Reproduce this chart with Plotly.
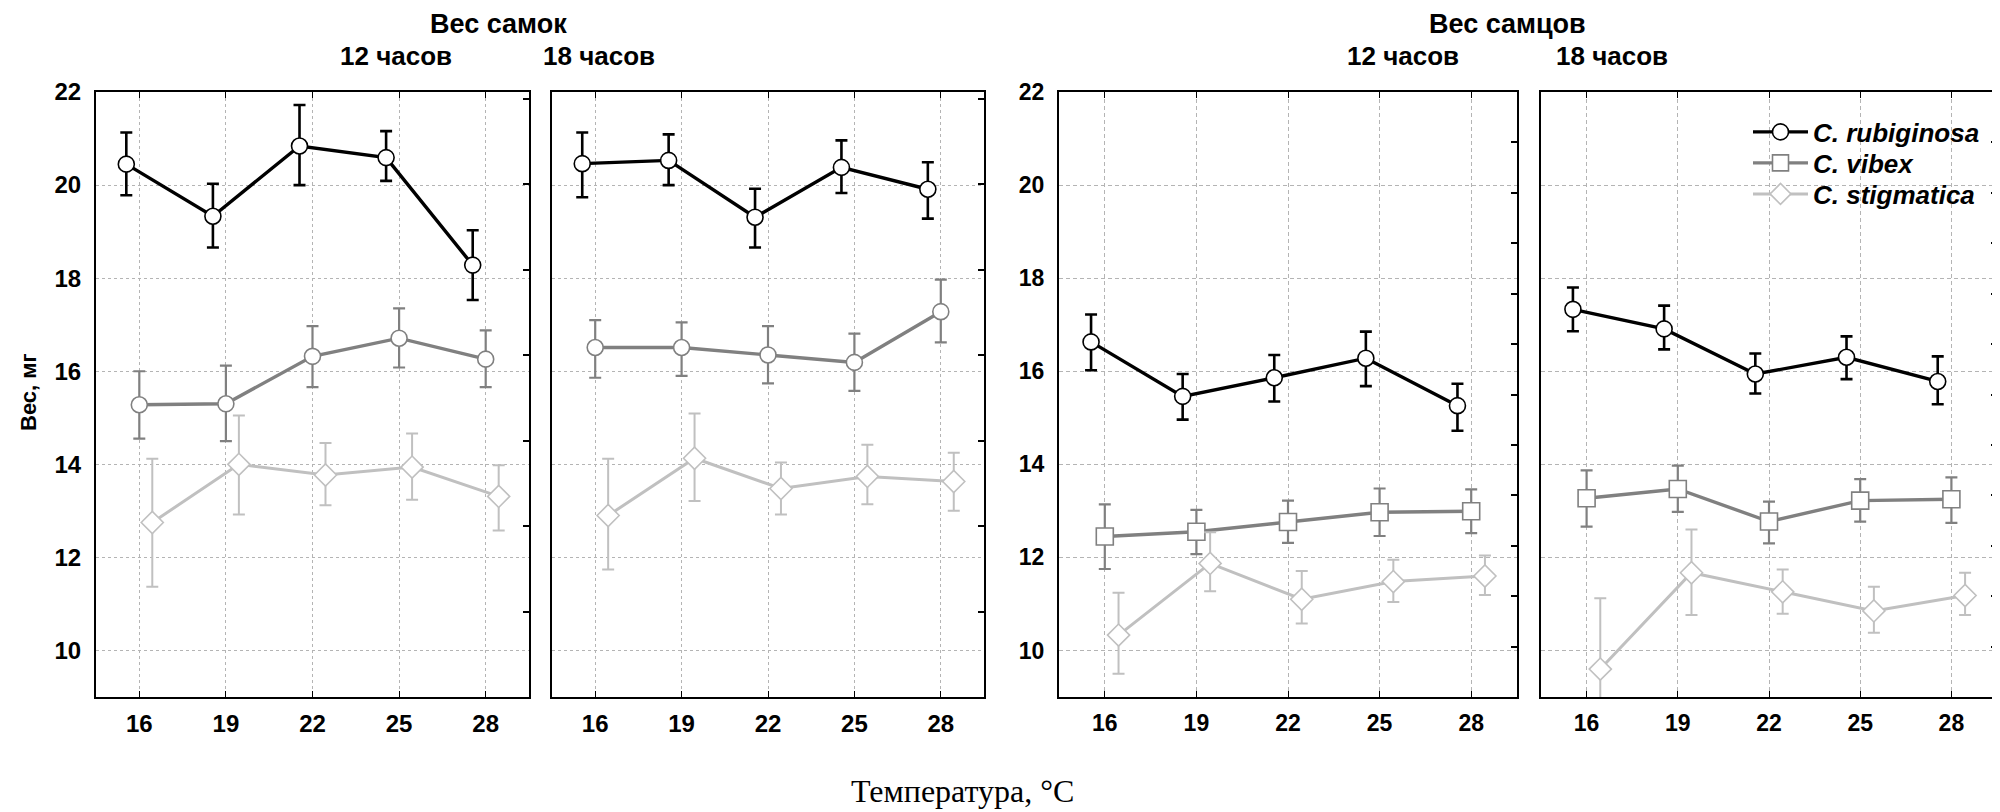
import plotly.graph_objects as go

# ---------------- data ----------------
temps = [16, 19, 22, 25, 28]
tick_labels = ["16", "19", "22", "25", "28"]
species = ["C. rubiginosa", "C. vibex", "C. stigmatica"]
y_ticks = [10, 12, 14, 16, 18, 20, 22]

# Females, 12 h
f12_rub = [20.45, 19.33, 20.84, 20.59, 18.28]
f12_rub_up = [0.68, 0.70, 0.88, 0.57, 0.75]
f12_rub_dn = [0.67, 0.67, 0.84, 0.50, 0.75]
f12_vib = [15.28, 15.30, 16.32, 16.71, 16.26]
f12_vib_up = [0.72, 0.82, 0.65, 0.64, 0.62]
f12_vib_dn = [0.73, 0.80, 0.66, 0.63, 0.60]
f12_sti = [12.75, 14.00, 13.77, 13.94, 13.31]
f12_sti_up = [1.37, 1.05, 0.69, 0.72, 0.67]
f12_sti_dn = [1.38, 1.08, 0.65, 0.70, 0.73]

# Females, 18 h
f18_rub = [20.46, 20.53, 19.31, 20.38, 19.91]
f18_rub_up = [0.67, 0.56, 0.61, 0.58, 0.58]
f18_rub_dn = [0.72, 0.53, 0.65, 0.55, 0.63]
f18_vib = [16.51, 16.51, 16.35, 16.19, 17.28]
f18_vib_up = [0.59, 0.54, 0.62, 0.62, 0.69]
f18_vib_dn = [0.65, 0.61, 0.61, 0.61, 0.66]
f18_sti = [12.90, 14.13, 13.48, 13.74, 13.63]
f18_sti_up = [1.22, 0.96, 0.56, 0.68, 0.62]
f18_sti_dn = [1.16, 0.92, 0.56, 0.60, 0.63]

# Males, 12 h
m12_rub = [16.63, 15.46, 15.86, 16.28, 15.26]
m12_rub_up = [0.59, 0.48, 0.49, 0.57, 0.47]
m12_rub_dn = [0.61, 0.50, 0.51, 0.60, 0.54]
m12_vib = [12.45, 12.55, 12.76, 12.97, 12.99]
m12_vib_up = [0.69, 0.47, 0.46, 0.51, 0.47]
m12_vib_dn = [0.70, 0.48, 0.45, 0.51, 0.47]
m12_sti = [10.33, 11.87, 11.10, 11.48, 11.60]
m12_sti_up = [0.91, 0.67, 0.61, 0.47, 0.44]
m12_sti_dn = [0.83, 0.60, 0.52, 0.44, 0.41]

# Males, 18 h
m18_rub = [17.33, 16.91, 15.94, 16.30, 15.78]
m18_rub_up = [0.47, 0.50, 0.44, 0.45, 0.54]
m18_rub_dn = [0.47, 0.44, 0.42, 0.47, 0.49]
m18_vib = [13.27, 13.47, 12.77, 13.22, 13.25]
m18_vib_up = [0.60, 0.50, 0.43, 0.46, 0.47]
m18_vib_dn = [0.61, 0.49, 0.47, 0.45, 0.51]
m18_sti = [9.60, 11.67, 11.26, 10.85, 11.18]
m18_sti_up = [1.52, 0.93, 0.48, 0.52, 0.49]
m18_sti_dn = [1.50, 0.91, 0.47, 0.47, 0.42]

# ---------------- geometry helpers ----------------
OFF = 8                      # page body margin of the html page
W, H = 2000 - OFF, 812 - OFF


def px_x(x):
    return (x - OFF) / W


def px_y(y):
    return 1 - (y - OFF) / H


# ---------------- styling ----------------
colors = ["#000000", "#808080", "#c0c0c0"]
offsets = [-0.45, 0.0, 0.45]          # horizontal dodge (°C)
line_w = [3.4, 3.4, 3.0]
err_w = [2.6, 2.2, 2.0]
NARROW = "Liberation Sans Narrow, Arial Narrow, Liberation Sans, Arial, sans-serif"
ARIAL = "Liberation Sans, Arial, sans-serif"
SERIF = "Liberation Serif, Times New Roman, serif"

panels = [
    dict(px=(96, 529), data=[(f12_rub, f12_rub_up, f12_rub_dn), (f12_vib, f12_vib_up, f12_vib_dn),
                             (f12_sti, f12_sti_up, f12_sti_dn)],
         symbols=["circle", "circle", "diamond"], female=True, labels=True),
    dict(px=(552, 984), data=[(f18_rub, f18_rub_up, f18_rub_dn), (f18_vib, f18_vib_up, f18_vib_dn),
                              (f18_sti, f18_sti_up, f18_sti_dn)],
         symbols=["circle", "circle", "diamond"], female=True, labels=False),
    dict(px=(1059, 1517), data=[(m12_rub, m12_rub_up, m12_rub_dn), (m12_vib, m12_vib_up, m12_vib_dn),
                                (m12_sti, m12_sti_up, m12_sti_dn)],
         symbols=["circle", "square", "diamond"], female=False, labels=True),
    dict(px=(1541, 1997), data=[(m18_rub, m18_rub_up, m18_rub_dn), (m18_vib, m18_vib_up, m18_vib_dn),
                                (m18_sti, m18_sti_up, m18_sti_dn)],
         symbols=["circle", "square", "diamond"], female=False, labels=False),
]
marker_sizes = {"circle": 16, "square": 17, "diamond": 17}
legend_names = ["legend", "legend2", "legend3"]
legend_rows = [132, 163, 194]

top_px, bot_px = 92, 697
ydom = [px_y(bot_px), px_y(top_px)]

fig = go.Figure()
layout = {}

for i, p in enumerate(panels):
    n = i + 1
    xa = "x" if n == 1 else f"x{n}"
    ya = "y" if n == 1 else f"y{n}"
    for s, (vals, up, dn) in enumerate(p["data"]):
        xs = [t + offsets[s] for t in temps]
        sym = p["symbols"][s]
        fig.add_trace(go.Scatter(
            x=xs, y=vals, xaxis=xa, yaxis=ya,
            mode="lines+markers", name=species[s],
            showlegend=(n == 4), legend=legend_names[s],
            line=dict(color=colors[s], width=line_w[s]),
            marker=dict(symbol=sym, size=marker_sizes[sym], color="white",
                        line=dict(color=colors[s], width=1.6)),
            error_y=dict(type="data", symmetric=False, array=up, arrayminus=dn,
                         color=colors[s], thickness=err_w[s], width=6),
            cliponaxis=True,
        ))
    grid_dash = "dot" if p["female"] else "4px,3px"
    tick_font = dict(family=NARROW if p["female"] else ARIAL, size=24 if p["female"] else 23,
                     color="#000000", weight="bold")
    layout["xaxis" if n == 1 else f"xaxis{n}"] = dict(
        domain=[px_x(p["px"][0]), px_x(p["px"][1])], anchor=ya,
        range=[14.5, 29.5], tickvals=temps, ticktext=tick_labels,
        showgrid=True, gridcolor="#b4b4b4", griddash=grid_dash, gridwidth=1,
        showline=True, linecolor="#000000", linewidth=2, mirror="ticks",
        ticks="inside", ticklen=6, tickcolor="#000000", tickwidth=1,
        tickfont=tick_font, ticklabelstandoff=4, zeroline=False, fixedrange=True,
        automargin=False,
    )
    layout["yaxis" if n == 1 else f"yaxis{n}"] = dict(
        domain=ydom, anchor=xa, range=[9, 22], tickvals=y_ticks,
        showticklabels=p["labels"], ticks="",
        showgrid=True, gridcolor="#b4b4b4", griddash=grid_dash, gridwidth=1,
        showline=True, linecolor="#000000", linewidth=2, mirror=True,
        tickfont=tick_font, ticklabelstandoff=8, zeroline=False, fixedrange=True,
        automargin=False,
    )

# right-side inner minor ticks (decorative secondary axes)
right_ranges = [7.08, 7.08, 12.0, 12.0]
right_ticks = [[1, 2, 3, 4, 5, 6, 7], [1, 2, 3, 4, 5, 6, 7],
               [1, 2, 3, 4, 5, 6, 7, 8, 9, 10, 11], [1, 2, 3, 4, 5, 6, 7, 8, 9, 10, 11]]
for i in range(4):
    n = i + 1
    xa = "x" if n == 1 else f"x{n}"
    fig.add_trace(go.Scatter(x=[None], y=[None], xaxis=xa, yaxis=f"y{n + 4}",
                             showlegend=False, hoverinfo="skip"))
    layout[f"yaxis{n + 4}"] = dict(
        overlaying="y" if n == 1 else f"y{n}", anchor=xa, side="right",
        range=[0, right_ranges[i]], tickvals=right_ticks[i],
        ticks="inside", ticklen=6, tickcolor="#000000", tickwidth=1.5,
        showticklabels=False, showgrid=False, zeroline=False, showline=False,
        fixedrange=True, automargin=False,
    )

title_font = dict(family=ARIAL, size=26, color="#000000", weight="bold")
big_title = dict(family=ARIAL, size=27, color="#000000", weight="bold")
annotations = [
    dict(text="Вес самок", x=px_x(498), y=px_y(24), font=big_title),
    dict(text="12 часов", x=px_x(396), y=px_y(56), font=title_font),
    dict(text="18 часов", x=px_x(599), y=px_y(56), font=title_font),
    dict(text="Вес самцов", x=px_x(1507), y=px_y(24), font=big_title),
    dict(text="12 часов", x=px_x(1403), y=px_y(56), font=title_font),
    dict(text="18 часов", x=px_x(1612), y=px_y(56), font=title_font),
    dict(text="Вес, мг", x=px_x(28), y=px_y(392), textangle=-90,
         font=dict(family=ARIAL, size=22, color="#000000", weight="bold")),
    dict(text="Температура, °C", x=px_x(962), y=px_y(791),
         font=dict(family=SERIF, size=32, color="#000000")),
]
for a in annotations:
    a.update(xref="paper", yref="paper", showarrow=False, xanchor="center", yanchor="middle")

legend_font = dict(family=ARIAL, size=26, color="#000000", weight="bold", style="italic")
for k, name in enumerate(legend_names):
    layout[name] = dict(x=px_x(1748), y=px_y(legend_rows[k]), xanchor="left", yanchor="middle",
                        bgcolor="rgba(0,0,0,0)", itemwidth=55, font=legend_font,
                        borderwidth=0)

fig.update_layout(
    width=W, height=H, margin=dict(l=0, r=0, t=0, b=0, pad=0, autoexpand=False),
    paper_bgcolor="white", plot_bgcolor="white",
    annotations=annotations,
    showlegend=True,
    **layout,
)

fig.write_html("out.html")
